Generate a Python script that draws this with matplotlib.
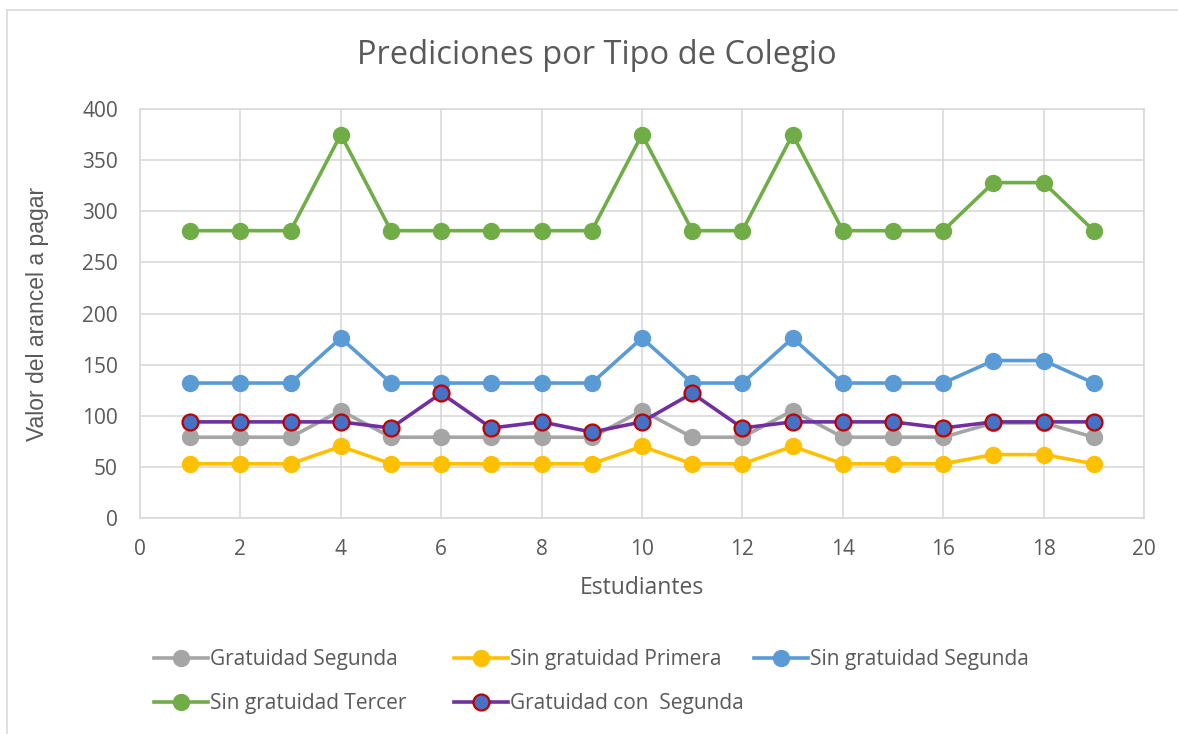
import matplotlib
matplotlib.use('Agg')
import matplotlib.pyplot as plt
import numpy as np
from matplotlib.lines import Line2D

# ---------------- data ----------------
estudiantes = list(range(1, 20))

gratuidad_segunda = [79, 79, 79, 105, 79, 79, 79, 79, 79, 105,
                     79, 79, 105, 79, 79, 79, 93, 93, 79]
sin_grat_primera = [53, 53, 53, 70, 53, 53, 53, 53, 53, 70,
                    53, 53, 70, 53, 53, 53, 62, 62, 53]
sin_grat_segunda = [132, 132, 132, 176, 132, 132, 132, 132, 132, 176,
                    132, 132, 176, 132, 132, 132, 154, 154, 132]
sin_grat_tercer = [281, 281, 281, 375, 281, 281, 281, 281, 281, 375,
                   281, 281, 375, 281, 281, 281, 328, 328, 281]
grat_con_segunda = [94, 94, 94, 94, 88, 122, 88, 94, 84, 94,
                    122, 88, 94, 94, 94, 88, 94, 94, 94]

labels = ['Gratuidad Segunda', 'Sin gratuidad Primera', 'Sin gratuidad Segunda',
          'Sin gratuidad Tercer', 'Gratuidad con  Segunda']

# ---------------- style ----------------
TEXT = '#595959'
GRID = '#D9D9D9'
FONT = 'Open Sans'

plt.rcParams['font.family'] = FONT

W, H = 1178, 734
fig = plt.figure(figsize=(W / 100, H / 100), dpi=100)

# chart outline: top and left edges
fig.add_artist(Line2D([7 / W, 1.0], [1 - 10 / H, 1 - 10 / H],
                      transform=fig.transFigure, color=GRID, linewidth=1.2))
fig.add_artist(Line2D([7 / W, 7 / W], [0.0, 1 - 10 / H],
                      transform=fig.transFigure, color=GRID, linewidth=1.2))

ax = fig.add_axes([140 / W, 1 - 518 / H, (1144 - 140) / W, (518 - 109) / H])

series = [
    (gratuidad_segunda, '#A5A5A5'),
    (sin_grat_primera, '#FFC000'),
    (sin_grat_segunda, '#5B9BD5'),
    (sin_grat_tercer, '#70AD47'),
]
handles = []
for (vals, col), lab in zip(series, labels[:4]):
    h, = ax.plot(estudiantes, vals, color=col, linewidth=2.6, marker='o',
                 markersize=11.5, markerfacecolor=col, markeredgecolor=col,
                 label=lab, zorder=3)
    handles.append(h)

h, = ax.plot(estudiantes, grat_con_segunda, color='#7030A0', linewidth=2.6,
             marker='o', markersize=11.5, markerfacecolor='#4472C4',
             markeredgecolor='#C00000', markeredgewidth=1.6,
             label=labels[4], zorder=4)
handles.append(h)

ax.set_xlim(0, 20)
ax.set_ylim(0, 400)
ax.set_xticks(np.arange(0, 21, 2))
ax.set_yticks(np.arange(0, 401, 50))
ax.grid(True, color=GRID, linewidth=1.2, zorder=0)
ax.set_axisbelow(True)
for s in ax.spines.values():
    s.set_color(GRID)
    s.set_linewidth(1.2)
ax.tick_params(length=0, labelsize=15, labelcolor=TEXT)
ax.tick_params(axis='x', pad=15)
ax.tick_params(axis='y', pad=16)

ax.set_xlabel('Estudiantes', fontsize=16.5, color=TEXT, labelpad=12)
ax.set_ylabel('Valor del arancel a pagar', fontsize=16.5, color=TEXT,
              family='Liberation Sans', labelpad=24)

fig.text(597 / W, 1 - 55 / H, 'Prediciones por Tipo de Colegio',
         ha='center', va='center', fontsize=23.5, color=TEXT)

# legend: three equal-width columns, filled row by row
columns = [[0, 3], [1, 4], [2]]
col_x = [150, 450, 750]
for idx, x0 in zip(columns, col_x):
    leg = fig.legend([handles[i] for i in idx], [labels[i] for i in idx],
                     loc='upper left', bbox_to_anchor=(x0 / W, 1 - 645 / H),
                     frameon=False, fontsize=15, handlelength=2.6,
                     handletextpad=0.1, labelspacing=1.12,
                     borderpad=0.2, borderaxespad=0)
    for t in leg.get_texts():
        t.set_color(TEXT)

fig.savefig('out.png', dpi=100)
